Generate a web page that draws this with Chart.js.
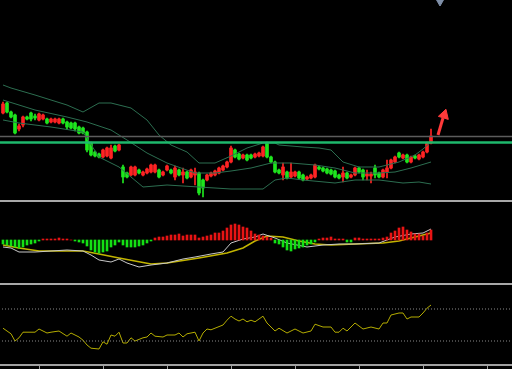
<!DOCTYPE html>
<html><head><meta charset="utf-8">
<script src="https://cdn.jsdelivr.net/npm/chart.js@4.4.1/dist/chart.umd.min.js"></script>
<style>
html,body{margin:0;padding:0;background:#000;width:512px;height:369px;overflow:hidden}
.p{position:absolute;left:0;width:512px}
.sep{position:absolute;left:0;width:512px;height:2px;background:#a8a8a8}
</style></head><body>
<div class="p" style="top:0;height:200px"><canvas id="c1"></canvas></div>
<div class="sep" style="top:200px"></div>
<div class="p" style="top:203px;height:80px"><canvas id="c2"></canvas></div>
<div class="sep" style="top:283px"></div>
<div class="p" style="top:285px;height:84px"><canvas id="c3"></canvas></div>
<script>
// ---- price candles ----
const opens = [18.7,19.7,18.8,18.5,17.1,17.5,18.3,18.7,18.4,18.0,
18.1,18.1,17.8,17.8,17.7,18.1,17.8,17.7,17.7,17.3,
17.2,16.8,15.7,14.8,14.6,14.3,14.4,14.2,15.4,15.0,
13.3,12.7,12.5,12.5,13.0,12.5,12.7,12.8,12.8,13.0,
12.5,13.0,13.0,12.3,13.0,12.5,12.8,12.3,12.5,12.7,
12.0,12.0,12.4,12.5,12.7,13.0,13.3,13.8,15.0,14.6,
14.2,14.5,14.5,14.3,14.4,14.4,15.7,14.3,13.8,13.0,
12.5,12.8,12.3,12.4,12.8,12.5,12.1,12.2,12.3,13.3,
13.2,13.1,13.0,12.9,12.5,12.3,12.7,12.3,12.5,13.2,
13.0,12.4,12.4,13.2,12.7,12.3,12.8,13.2,13.8,14.7,
14.2,14.5,13.8,14.4,14.1,14.3,14.8,15.7];
const closes = [19.6,18.8,18.3,16.7,17.4,18.3,18.1,18.1,18.2,18.6,
18.5,17.7,18.1,18.1,18.1,17.7,17.3,17.2,17.1,16.7,
16.7,15.0,14.5,14.4,14.3,15.0,15.2,15.2,14.9,15.5,
12.3,12.3,13.3,13.3,12.7,12.8,13.1,13.5,13.5,12.3,
12.8,13.4,12.7,13.2,12.5,12.8,12.2,13.0,12.8,10.7,
11.2,12.5,12.7,12.9,13.2,13.4,13.8,15.2,14.3,14.1,
14.5,14.0,14.2,14.6,14.7,15.3,14.3,13.8,12.8,12.7,
13.3,12.2,12.8,12.8,12.2,12.0,12.3,12.5,13.5,13.1,
12.9,12.7,12.6,12.3,12.2,12.7,12.2,12.5,13.2,12.8,
12.3,12.6,12.6,12.5,12.3,13.0,13.2,14.0,14.3,14.3,
14.5,13.8,14.3,14.2,14.5,14.8,15.7,16.4];
const highs = [19.8,19.8,18.9,18.6,17.6,18.4,18.4,18.8,18.6,18.7,
18.6,18.2,18.2,18.2,18.2,18.2,17.9,17.8,17.8,17.4,
17.3,16.9,15.8,14.9,14.7,15.1,15.3,15.5,15.5,15.6,
13.5,12.8,13.4,13.4,13.1,12.9,13.2,13.6,13.6,13.1,
12.9,13.5,13.1,13.4,13.1,13.2,12.9,13.1,13.2,12.8,
12.1,12.6,12.8,13.0,13.3,13.5,13.9,15.4,15.1,14.7,
14.6,14.6,14.6,14.7,14.8,15.4,15.8,14.4,13.9,13.1,
13.7,12.9,13.7,12.9,12.9,12.6,12.4,12.6,13.6,13.4,
13.3,13.2,13.1,13.0,12.6,13.3,12.8,12.6,13.3,13.3,
13.1,13.0,12.8,13.5,12.8,13.1,14.0,14.1,14.4,14.8,
14.6,14.6,14.4,14.5,14.6,14.9,15.8,17.1];
const lows = [18.6,18.7,18.2,16.6,16.9,17.3,18.0,17.9,18.0,17.9,
18.0,17.6,17.7,17.7,17.6,17.6,17.1,17.1,16.9,16.6,
16.6,14.8,14.4,14.3,14.2,14.2,14.3,14.1,14.8,14.9,
11.7,12.2,12.4,12.4,12.6,12.4,12.6,12.7,12.7,12.2,
12.4,12.9,12.6,12.0,12.4,11.7,12.1,12.2,11.5,10.5,
10.3,11.9,12.3,12.4,12.6,12.9,13.2,13.7,14.2,14.0,
14.1,13.9,14.1,14.2,14.3,14.3,14.2,13.7,12.7,12.6,
12.0,12.1,12.2,12.3,12.1,11.9,12.0,12.1,12.2,13.0,
12.8,12.6,12.5,12.2,12.1,11.8,12.1,12.2,12.4,12.7,
12.0,12.0,11.7,12.2,12.2,12.2,12.2,13.1,13.7,14.2,
14.1,13.7,13.7,14.1,14.0,14.2,14.7,15.6];

// ---- Bollinger bands (bar index, value) ----
const bollUpperIdx = [0,2,8,16,20,24,27,32,36,39,42,46,49,53,57,61,65,68,69,75,79,82,85,89,94,99,103,105,107];
const bollUpper    = [21.5,21.2,20.5,19.5,18.8,19.7,19.7,19.2,18.0,16.5,15.5,14.8,13.7,13.7,14.4,15.2,15.7,15.7,15.5,15.3,15.2,15.0,13.8,13.3,13.3,13.8,14.5,15.1,15.8];
const bollMidIdx = [0,4,8,16,21,27,31,36,41,48,53,57,62,67,72,78,83,88,94,98,102,107];
const bollMid    = [20.0,19.5,19.0,18.3,17.8,17.0,16.0,14.7,13.7,12.7,12.7,12.9,13.2,13.7,13.7,13.5,13.2,12.7,12.7,12.8,13.2,13.8];
const bollLowIdx = [0,4,12,20,24,29,35,41,49,57,65,68,71,75,83,88,94,100,104,107];
const bollLow    = [18.0,17.7,17.3,16.8,14.3,13.3,11.3,11.5,11.3,11.1,11.1,12.0,12.2,12.0,11.7,12.0,12.0,11.7,11.8,11.6];

// ---- reference levels in the price pane ----
const greyLevel = 16.35;
const greenLevel = 15.75;
const arrowIdx = [108.75, 110.0];
const arrowVal = [16.5, 18.2];
const arrowHead = {x: 110.3, y: 18.5};
const markerTop = {x: 109.25, y: 29.9};

// ---- MACD ----
const macdHist = [-0.04,-0.05,-0.06,-0.07,-0.08,-0.07,-0.05,-0.04,-0.03,-0.01,
0.01,0.01,0.01,0.01,0.02,0.01,0.01,0,-0.01,-0.02,
-0.03,-0.06,-0.10,-0.12,-0.13,-0.12,-0.11,-0.07,-0.05,-0.02,
-0.05,-0.07,-0.07,-0.07,-0.06,-0.05,-0.03,-0.01,0.02,0.03,
0.03,0.04,0.05,0.05,0.06,0.04,0.05,0.05,0.05,0.02,
0.03,0.04,0.05,0.07,0.07,0.09,0.12,0.15,0.16,0.15,
0.13,0.12,0.09,0.06,0.05,0.04,0.03,0.02,-0.03,-0.04,
-0.07,-0.10,-0.11,-0.09,-0.08,-0.07,-0.05,-0.04,-0.02,0.01,
0.02,0.02,0.03,0.01,0.01,0.01,-0.02,-0.02,0.02,0.02,
0.01,0.01,0.01,0.01,0.01,0.02,0.03,0.07,0.09,0.12,
0.13,0.10,0.08,0.06,0.06,0.04,0.07,0.10];
const difIdx = [0,2,4,8,12,16,20,22,24,27,29,31,34,37,41,45,48,52,55,57,60,63,65,68,71,76,80,84,88,94,98,102,105,107];
const dif    = [-0.07,-0.08,-0.12,-0.12,-0.11,-0.10,-0.11,-0.15,-0.20,-0.22,-0.19,-0.23,-0.27,-0.25,-0.23,-0.19,-0.17,-0.14,-0.12,-0.03,0.01,0.03,0.06,0.02,-0.03,-0.07,-0.05,-0.04,-0.04,-0.03,0.03,0.06,0.07,0.11];
const deaIdx = [0,4,9,20,24,29,37,41,49,56,60,63,66,70,74,78,82,88,95,99,103,107];
const dea    = [-0.05,-0.08,-0.11,-0.11,-0.14,-0.18,-0.24,-0.23,-0.18,-0.13,-0.08,-0.01,0.04,0.03,-0.01,-0.04,-0.05,-0.04,-0.03,-0.01,0.03,0.07];

// ---- RSI ----
const rsiIdx = [0,1,2,3,4,5,8,9,11,12,14,16,17,19,20,21,22,24,25,26,27,28,29,30,31,32,33,35,36,37,38,40,41,43,44,45,46,48,49,50,51,52,53,55,56,57,58,59,60,61,62,63,65,66,67,68,69,71,73,75,77,78,80,82,83,84,85,86,88,90,92,94,95,96,97,99,100,101,102,104,105,106,107];
const rsi    = [46,42.5,39,30,34,41,41,45,40,41,42.5,36,40,35,31,25,21,20,29,26,37.5,36,41,27.5,27.5,34,30,34,35,40,36,35,37.5,37.5,40,35,39,41,30,40,45,44,46,50,56,61,57.5,55,57.5,54,56,54,61,52.5,47.5,42.5,46,40,45,40,42.5,51,47.5,47.5,41,41,46,42.5,52.5,45,47.5,45,52.5,52.5,62.5,65,65,57.5,60,60,65,71,75];
const rsiLevels = [30, 70];

// ---- axis ticks (bar index) ----
const tickIdx = [9,25,41,57,73,89,105,121];

const XMIN = -0.75, XMAX = 127.25;
const UP = '#ff2424', DN = '#1fe61f';
const pts = (xs, ys) => xs.map((x, i) => ({x, y: ys[i]}));
const flat = (v) => [{x: XMIN - 1, y: v}, {x: XMAX + 1, y: v}];

function opts(ymin, ymax) {
  return {
    responsive: true, maintainAspectRatio: false, animation: false, devicePixelRatio: 1,
    events: [], layout: {padding: 0, autoPadding: false},
    plugins: {legend: {display: false}, tooltip: {enabled: false}},
    scales: {
      x: {type: 'linear', min: XMIN, max: XMAX, display: false, offset: false, grid: {offset: false}},
      y: {type: 'linear', min: ymin, max: ymax, display: false}
    }
  };
}

const candleCol = opens.map((o, i) => closes[i] >= o ? UP : DN);
const bodies = opens.map((o, i) => ({x: i, y: [o, closes[i]]}));
const wicks = opens.map((o, i) => ({x: i, y: [lows[i], highs[i]]}));
const line = (data, color, w, extra) => Object.assign({type: 'line', data, borderColor: color, backgroundColor: color, borderWidth: w, pointRadius: 0, tension: 0, fill: false}, extra || {});

new Chart(document.getElementById('c1'), {
  data: {datasets: [
    line(flat(greyLevel), '#5c5c5c', 1.5),
    line(flat(greenLevel), '#1eb86c', 2.5),
    line(pts(bollUpperIdx, bollUpper), '#2c6e50', 1),
    line(pts(bollMidIdx, bollMid), '#2c6e50', 1),
    line(pts(bollLowIdx, bollLow), '#2c6e50', 1),
    {type: 'bar', data: wicks, backgroundColor: candleCol, barThickness: 1, grouped: false},
    {type: 'bar', data: bodies, backgroundColor: candleCol, barThickness: 3, grouped: false, minBarLength: 1},
    line(pts(arrowIdx, arrowVal), '#ff3a3a', 3),
    line([arrowHead], '#ff3a3a', 1, {showLine: false, pointRadius: 6, pointStyle: 'triangle', pointRotation: 17, pointBackgroundColor: '#ff3a3a', pointBorderColor: '#ff3a3a'}),
    line([markerTop], '#7f8fa8', 1, {showLine: false, pointRadius: 5, pointStyle: 'triangle', pointRotation: 180, pointBackgroundColor: '#7f8fa8', pointBorderColor: '#7f8fa8', clip: false})
  ]},
  options: opts(10, 30)
});

new Chart(document.getElementById('c2'), {
  data: {datasets: [
    {type: 'bar', data: macdHist.map((v, i) => ({x: i, y: v})), backgroundColor: macdHist.map(v => v >= 0 ? '#e81414' : '#14e014'), barThickness: 2, grouped: false},
    line(pts(difIdx, dif), '#c8c8c8', 1),
    line(pts(deaIdx, dea), '#c2b400', 1.5)
  ]},
  options: opts(-0.43, 0.37)
});

const o3 = opts(0, 100);
o3.scales.x = {
  type: 'linear', min: XMIN, max: XMAX, display: true, offset: false,
  grid: {display: true, drawOnChartArea: false, drawTicks: true, tickLength: 4, color: '#a0a0a0', lineWidth: 1},
  border: {display: true, color: '#a0a0a0', width: 2},
  ticks: {display: false},
  afterBuildTicks: (s) => { s.ticks = tickIdx.map(v => ({value: v})); }
};
new Chart(document.getElementById('c3'), {
  data: {datasets: [
    line(flat(rsiLevels[0]), '#8a8a8a', 1, {borderDash: [1, 2]}),
    line(flat(rsiLevels[1]), '#8a8a8a', 1, {borderDash: [1, 2]}),
    line(pts(rsiIdx, rsi), '#b4ac00', 1)
  ]},
  options: o3
});
</script>
</body></html>
